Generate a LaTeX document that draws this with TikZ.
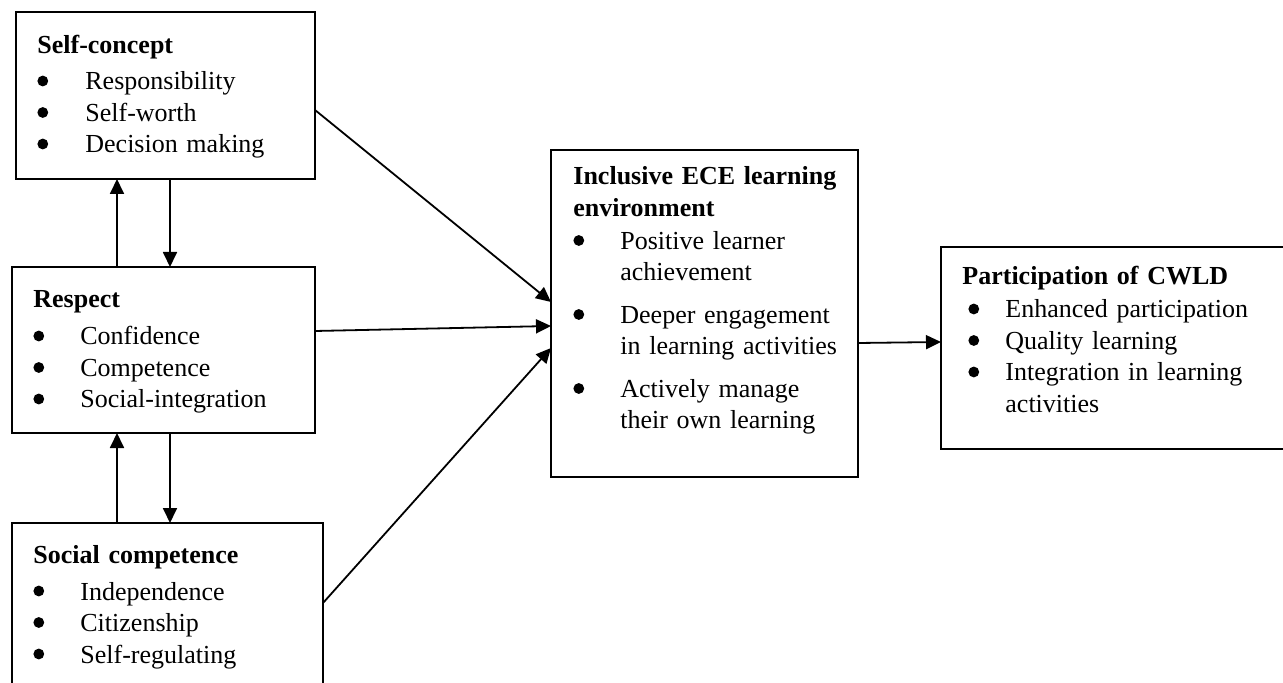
\documentclass[tikz,border=0pt]{standalone}
\usepackage{fontspec}
\setmainfont{Liberation Serif}
\usetikzlibrary{arrows.meta,calc}

% bullet, one bullet line, and a continued line of the same item
\newlength{\bulshift}
\newcommand{\dotb}{\tikz[baseline=-4.5pt]\fill (0,0) circle (2.7pt);}
\newcommand{\bul}[2][23.5pt]{\par\noindent\makebox[#1][l]{\hspace*{\bulshift}\dotb}#2}
\newcommand{\cont}[2][23.5pt]{\par\noindent\hspace*{#1}#2}

\tikzset{
  box/.style={draw,line width=1pt,inner sep=0pt,outer sep=0pt},
  txt/.style={anchor=base west,inner sep=0pt,text width=180pt,font=\fontsize{13}{15.75}\selectfont},
  arr/.style={line width=0.9pt,-{Triangle[length=7.5pt,width=7pt]}}
}

\begin{document}
\begin{tikzpicture}[x=0.5pt,y=-0.5pt]
	\useasboundingbox (0,0) rectangle (1283,683);
	% left column
	\node[box,minimum width=149.5pt,minimum height=83.5pt] (sc) at (165.5,95.5) {};
	\node[box,minimum width=151.5pt,minimum height=83pt] (rs) at (163.5,350) {};
	\node[box,minimum width=155.5pt,minimum height=103.5pt] (so) at (167.5,626.5) {};
	% middle and right
	\node[box,minimum width=153.5pt,minimum height=163.5pt] (ie) at (704.5,313.5) {};
	\node[box,minimum width=184.5pt,minimum height=101pt] (pc) at (1125.5,348) {};
	% texts
	\node[txt] (sc-t) at (37,54) {\textbf{Self-concept}\par\vspace{2.25pt}
		\bul[24pt]{Responsibility}
		\bul[24pt]{Self-worth}
		\bul[24pt]{Decision making}};
	\node[txt] (rs-t) at (33,308) {\textbf{Respect}\par\vspace{2.75pt}
		\bul{Confidence}
		\bul{Competence}
		\bul{Social-integration}};
	\node[txt] (so-t) at (33,563) {\textbf{Social competence}\par\vspace{2.75pt}
		\bul{Independence}
		\bul{Citizenship}
		\bul{Self-regulating}};
	\node[txt] (ie-t) at (573,185) {\textbf{Inclusive ECE learning}\par\textbf{environment}\par\vspace{0.75pt}
		\bul{Positive learner}\cont{achievement}\par\vspace{5.5pt}
		\bul{Deeper engagement}\cont{in learning activities}\par\vspace{5.5pt}
		\bul{Actively manage}\cont{their own learning}};
	\node[txt] (pc-t) at (962,285) {\setlength{\bulshift}{3pt}\textbf{Participation of CWLD}\par\vspace{0.75pt}
		\bul[21.5pt]{Enhanced participation}
		\bul[21.5pt]{Quality learning}
		\bul[21.5pt]{Integration in learning}\cont[21.5pt]{activities}};
	% up and down arrows
	\draw[arr] ($(rs.north west)+(105,0)$) -- ($(sc.south west)+(101,0)$);
	\draw[arr] ($(sc.south west)+(154,0)$) -- ($(rs.north west)+(158,0)$);
	\draw[arr] ($(so.north west)+(105,0)$) -- ($(rs.south west)+(105,0)$);
	\draw[arr] ($(rs.south west)+(158,0)$) -- ($(so.north west)+(158,0)$);
	% into the environment box
	\draw[arr] ($(sc.north east)+(0,98)$) -- ($(ie.north west)+(0,152)$);
	\draw[arr] ($(rs.north east)+(0,64)$) -- ($(ie.north west)+(0,176)$);
	\draw[arr] ($(so.north east)+(0,80)$) -- ($(ie.north west)+(0,198)$);
	\draw[arr] ($(ie.north east)+(0,193)$) -- ($(pc.north west)+(0,95)$);
\end{tikzpicture}
\end{document}
